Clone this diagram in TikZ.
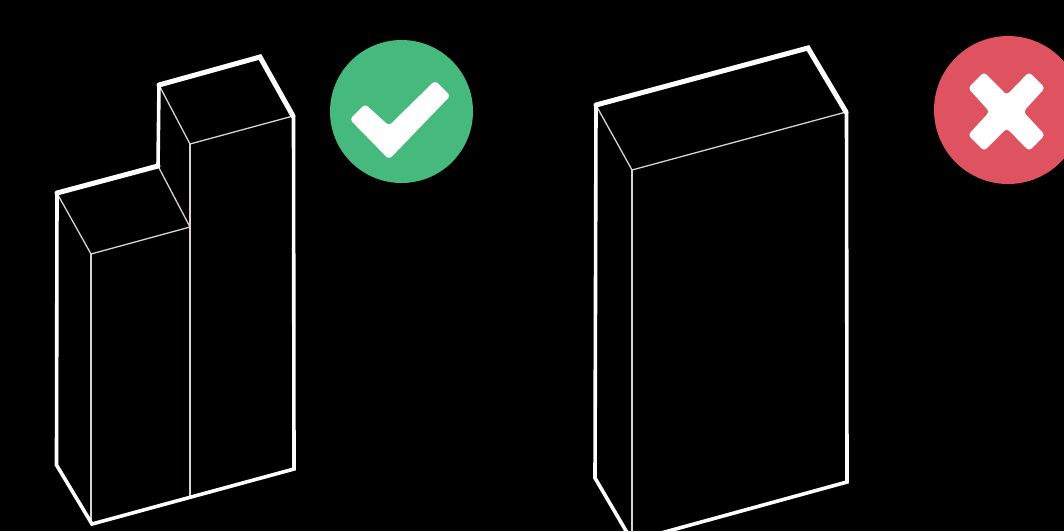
\documentclass[tikz,border=0pt]{standalone}
\definecolor{okgreen}{HTML}{46B97C}
\definecolor{badred}{HTML}{DF5260}
\definecolor{thinline}{HTML}{D8D2D2}
\tikzset{
  thinedge/.style={draw=thinline,line width=1.3pt,line join=miter},
  sideedge/.style={draw=white,line width=3.6pt,line join=miter,line cap=round},
  heavyedge/.style={draw=white,line width=5pt,line join=miter,line cap=round},
  badge/.style={draw=none},
  mark glyph/.style={fill=white,rounded corners=3.5pt}
}
\begin{document}
\begin{tikzpicture}[x=1pt,y=-1pt]
\useasboundingbox (0,0) rectangle (1064,531);
\fill[black] (0,0) rectangle (1064,531);
\begin{scope}
\clip (0,0) rectangle (1064,531);
% left block: thin inner edges
\draw[thinedge] (58,195) -- (91,254) -- (190,227) -- (158,166);
\draw[thinedge] (91,254) -- (91,523);
\draw[thinedge] (160,87) -- (190,144) -- (293,116);
\draw[thinedge] (190,144) -- (190,497);
% left block: outline
\draw[sideedge] (57,193) -- (56.5,465) -- (92,524) -- (294,469) -- (293.5,116);
\draw[sideedge] (158,166) -- (159,85);
\draw[heavyedge] (57,193) -- (158,166);
\draw[heavyedge] (159,85) -- (260,57) -- (293,116);
% right block: thin inner edges
\draw[thinedge] (597,107) -- (632,170) -- (846,112);
\draw[thinedge] (632,170) -- (632,540);
% right block: outline
\draw[sideedge] (596,105) -- (595,478) -- (632,541) -- (847,482) -- (846.5,112);
\draw[heavyedge] (596,105) -- (808,48) -- (846,112);
% green badge
\fill[okgreen,badge] (401.5,111.5) circle[radius=71.5];
\fill[mark glyph] (365,104) -- (349.7,119.3) -- (389,159.5) -- (450.5,95.7) -- (435,80.5) -- (389,125.7) -- cycle;
% red badge
\fill[badred,badge] (1008,110) circle[radius=74];
\fill[mark glyph] (984,72) -- (968,88) -- (989.5,111.7) -- (968,135) -- (984,151) -- (1006.7,128.3) -- (1029,151) -- (1045,135) -- (1023.3,111.7) -- (1045,88) -- (1029,72) -- (1006.7,95) -- cycle;
\end{scope}
\end{tikzpicture}
\end{document}
